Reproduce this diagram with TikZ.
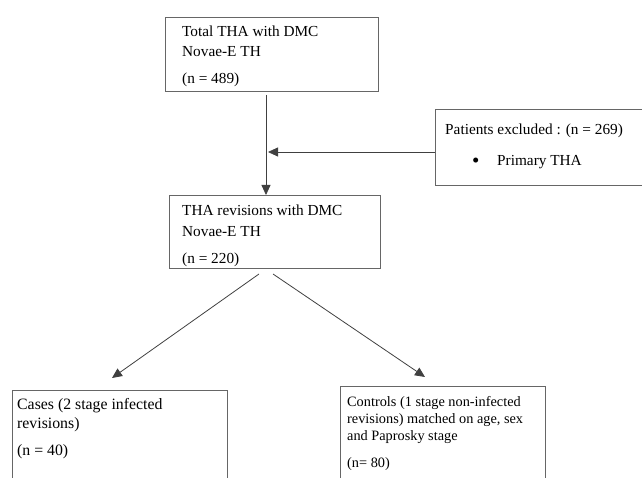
\documentclass[tikz,border=0pt]{standalone}
\usepackage{fontspec}
\setmainfont{Liberation Serif}
\usetikzlibrary{arrows.meta}
\begin{document}
\begin{tikzpicture}[x=1pt,y=-1pt,
  box/.style={draw=black!60, line width=0.8pt, anchor=north west, inner sep=0pt},
  txt/.style={anchor=base west, align=left, inner sep=0pt, font=\fontsize{15.3}{20}\selectfont},
  casetxt/.style={anchor=base west, align=left, inner sep=0pt, font=\fontsize{15.8}{19}\selectfont},
  smalltxt/.style={anchor=base west, align=left, inner sep=0pt, font=\fontsize{14.3}{17}\selectfont},
  arr/.style={draw=black!75, line width=0.8pt, -{Triangle[length=10pt,width=9pt]}}]
\useasboundingbox (0,0) rectangle (642,478);
\clip (0,0) rectangle (642,478);
% boxes
\node[box, minimum width=213pt, minimum height=74pt] (b1) at (165,17) {};
\node[box, minimum width=211pt, minimum height=73pt] (b2) at (169,195) {};
\node[box, minimum width=230pt, minimum height=76pt] (ex) at (435,109) {};
\node[box, minimum width=215pt, minimum height=110pt] (cases) at (12,390) {};
\node[box, minimum width=205pt, minimum height=110pt] (ctrl) at (340,386) {};
% texts (base anchor = last line)
\node[txt] (t1) at (182,84) {Total THA with DMC\\Novae-E TH\\[7pt](n = 489)};
\node[txt] (t2) at (182,264) {THA revisions with DMC\\Novae-E TH\\[8pt](n = 220)};
\node[txt] (tex) at (445,135) {Patients excluded : (n = 269)};
\node[anchor=base west, inner sep=0pt, font=\fontsize{21}{21}\selectfont] (bul) at (472,168) {•};
\node[txt] (tex2) at (497,166) {Primary THA};
\node[casetxt] (tcases) at (17,455) {Cases (2 stage infected\\revisions)\\[8pt](n = 40)};
\node[smalltxt] (tctrl) at (347,467) {Controls (1 stage non-infected\\revisions) matched on age, sex\\and Paprosky stage\\[10pt](n= 80)};
% connectors
\coordinate (v) at (266,0);
\coordinate (h) at (0,152);
\draw[arr] ([yshift=-3pt]b1.south -| v) -- (b2.north -| v);
\draw[arr] (ex.west |- h) -- ([xshift=2pt]v |- h);
\coordinate (d1s) at (259,274);
\coordinate (d1e) at (112,378);
\coordinate (d2s) at (273,274);
\coordinate (d2e) at (425,377);
\draw[arr] (d1s) -- (d1e);
\draw[arr] (d2s) -- (d2e);
\end{tikzpicture}
\end{document}
